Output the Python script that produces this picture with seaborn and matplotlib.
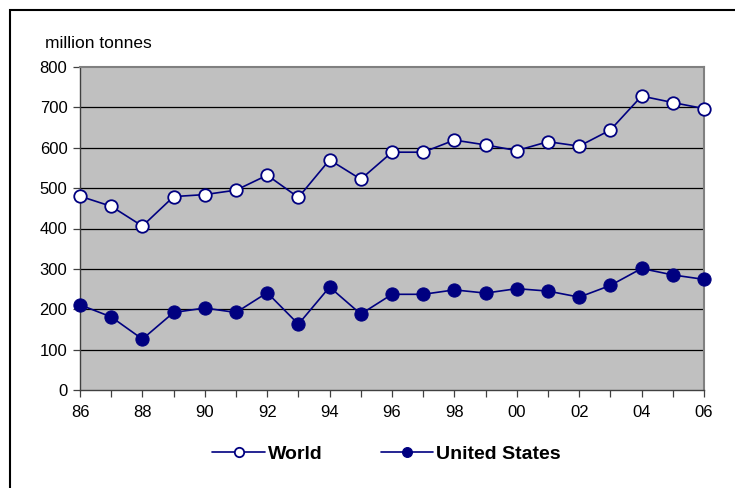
import matplotlib
matplotlib.use("Agg")
import matplotlib.pyplot as plt
from matplotlib.patches import Rectangle
import pandas as pd
import seaborn as sns

years = list(range(1986, 2007))
world = [480, 455, 406, 479, 484, 495, 532, 477, 570, 522, 589,
         589, 619, 607, 593, 615, 604, 644, 728, 712, 697]
united_states = [211, 181, 126, 192, 203, 192, 241, 163, 255, 188, 237,
                 237, 248, 240, 251, 245, 230, 259, 301, 285, 274]
tick_labels = ["86", "88", "90", "92", "94", "96", "98", "00", "02", "04", "06"]
y_ticks = [0, 100, 200, 300, 400, 500, 600, 700, 800]

sns.set_theme(style="white")
plt.rcParams["font.family"] = ["Liberation Sans", "DejaVu Sans"]
plt.rcParams["text.color"] = "black"

df = pd.DataFrame({"year": years, "World": world, "United States": united_states})

fig = plt.figure(figsize=(7.35, 4.88), dpi=100)
ax = fig.add_axes([80 / 735, 1 - 390 / 488, 624 / 735, 323 / 488])
ax.set_facecolor("#c0c0c0")

navy = "#000080"
sns.lineplot(data=df, x="year", y="World", ax=ax, color=navy, lw=1.2,
             marker="o", markersize=9, markerfacecolor="white",
             markeredgecolor=navy, markeredgewidth=1.3, label="World",
             zorder=3, clip_on=False)
sns.lineplot(data=df, x="year", y="United States", ax=ax, color=navy, lw=1.2,
             marker="o", markersize=9.5, markerfacecolor=navy,
             markeredgecolor=navy, label="United States", zorder=3,
             clip_on=False)

ax.set_xlim(1986, 2006)
ax.set_ylim(0, 800)
ax.set_yticks(y_ticks)
ax.set_xticks(years)
ax.set_xticklabels([tick_labels[i // 2] if i % 2 == 0 else "" for i in range(len(years))])
ax.set_xlabel("")
ax.set_ylabel("")
for y in y_ticks[1:-1]:
    ax.axhline(y, color="black", lw=0.9, zorder=1)

ax.tick_params(axis="both", which="major", direction="out", length=5, width=0.9,
               color="#404040", labelsize=12, labelcolor="black", pad=4,
               bottom=True, left=True)
ax.tick_params(axis="x", pad=6)
for side in ("left", "bottom"):
    ax.spines[side].set_color("#404040")
    ax.spines[side].set_linewidth(1.0)
for side in ("right", "top"):
    ax.spines[side].set_color("#808080")
    ax.spines[side].set_linewidth(1.5)

fig.text(45 / 735, 1 - 44 / 488, "million tonnes", fontsize=12.5, va="center",
         ha="left", color="black")

leg = ax.legend(loc="center", bbox_to_anchor=(0.526, 1 - 454 / 488),
                bbox_transform=fig.transFigure, ncol=2, frameon=False,
                prop={"weight": "bold", "size": 14}, handlelength=2.7,
                columnspacing=3.0, handletextpad=0.15, markerscale=0.75)
for t in leg.get_texts():
    t.set_color("black")

fig.patches.append(Rectangle((10 / 735, -0.1), 1.2, 1.1 - 10 / 488, transform=fig.transFigure,
                             fill=False, edgecolor="black", lw=1.5))

fig.savefig("out.png", dpi=100)
